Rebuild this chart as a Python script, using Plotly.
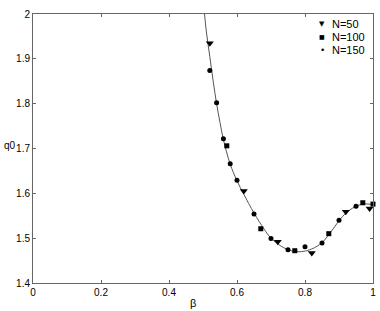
import plotly.graph_objects as go

# Fitted curve
curve_x = [0.502, 0.51, 0.52, 0.53, 0.54, 0.55, 0.56, 0.58, 0.60, 0.62, 0.65, 0.68,
           0.70, 0.73, 0.76, 0.79, 0.82, 0.85, 0.88, 0.91, 0.94, 0.97, 1.0]
curve_y = [2.02, 1.96, 1.905, 1.85, 1.80, 1.758, 1.72, 1.665, 1.628, 1.598, 1.556, 1.520,
           1.500, 1.482, 1.472, 1.470, 1.476, 1.490, 1.518, 1.548, 1.567, 1.576, 1.575]

# N=50
n50_x = [0.52, 0.62, 0.72, 0.82, 0.92, 0.99]
n50_y = [1.935, 1.605, 1.492, 1.467, 1.559, 1.566]
# N=100
n100_x = [0.57, 0.67, 0.77, 0.87, 0.97, 1.0]
n100_y = [1.706, 1.521, 1.472, 1.510, 1.579, 1.576]
# N=150
n150_x = [0.52, 0.54, 0.56, 0.58, 0.60, 0.65, 0.70, 0.75, 0.80, 0.85, 0.90, 0.95]
n150_y = [1.874, 1.802, 1.722, 1.666, 1.629, 1.554, 1.499, 1.474, 1.481, 1.489, 1.540, 1.571]

series_names = ["N=50", "N=100", "N=150"]
legend_glyphs = ["▼", "■", "•"]
legend_glyph_sizes = [7, 6, 9]

x_ticks = [0, 0.2, 0.4, 0.6, 0.8, 1]
x_tick_labels = ["0", "0.2", "0.4", "0.6", "0.8", "1"]
y_ticks = [1.4, 1.5, 1.6, 1.7, 1.8, 1.9, 2]
y_tick_labels = ["1.4", "1.5", "1.6", "1.7", "1.8", "1.9", "2"]

FONT = "Liberation Sans, Arial"

fig = go.Figure()
fig.add_trace(go.Scatter(x=curve_x, y=curve_y, mode="lines", line=dict(color="#555555", width=1, shape="spline"),
                         showlegend=False, hoverinfo="skip"))
fig.add_trace(go.Scatter(x=n50_x, y=n50_y, mode="markers", name=series_names[0], cliponaxis=False,
                         marker=dict(symbol="triangle-down", size=7, color="black")))
fig.add_trace(go.Scatter(x=n100_x, y=n100_y, mode="markers", name=series_names[1], cliponaxis=False,
                         marker=dict(symbol="square", size=5, color="black")))
fig.add_trace(go.Scatter(x=n150_x, y=n150_y, mode="markers", name=series_names[2], cliponaxis=False,
                         marker=dict(symbol="circle", size=5, color="black")))

axis_common = dict(showgrid=False, zeroline=False, showline=True, linecolor="#666666", linewidth=1,
                   mirror="ticks", ticks="inside", ticklen=3, tickcolor="#666666", automargin=False,
                   tickfont=dict(family=FONT, size=10, color="black"))

annotations = [
    dict(text="β", x=0.47, y=-0.045, xref="paper", yref="paper", xanchor="center", yanchor="top",
         showarrow=False, font=dict(family=FONT, size=11, color="black")),
    dict(text="q0", x=-0.045, y=0.51, xref="paper", yref="paper", xanchor="right", yanchor="middle",
         showarrow=False, font=dict(family=FONT, size=10, color="black")),
]
# Manual legend (compact, as in the reference)
legend_rows_y = [24, 37, 50]  # pixel rows from top of figure
plot_top, plot_h = 14, 269
for name, glyph, gsize, py in zip(series_names, legend_glyphs, legend_glyph_sizes, legend_rows_y):
    yp = 1 - (py - plot_top) / plot_h
    annotations.append(dict(text=glyph, x=(322 - 33) / 340, y=yp, xref="paper", yref="paper",
                            xanchor="center", yanchor="middle", showarrow=False,
                            font=dict(family="DejaVu Sans", size=gsize, color="black")))
    annotations.append(dict(text=name, x=(330 - 33) / 340, y=yp, xref="paper", yref="paper",
                            xanchor="left", yanchor="middle", showarrow=False,
                            font=dict(family=FONT, size=11, color="black")))

fig.update_layout(
    width=380, height=311,
    margin=dict(l=33, r=7, t=14, b=28),
    paper_bgcolor="white", plot_bgcolor="white",
    showlegend=False,
    xaxis=dict(range=[0, 1], tickvals=x_ticks, ticktext=x_tick_labels, **axis_common),
    yaxis=dict(range=[1.4, 2], tickvals=y_ticks, ticktext=y_tick_labels, **axis_common),
    annotations=annotations,
)

fig.write_html("out.html", config={"displayModeBar": False},
               post_script="document.body.style.margin='0';document.body.style.overflow='hidden';")
